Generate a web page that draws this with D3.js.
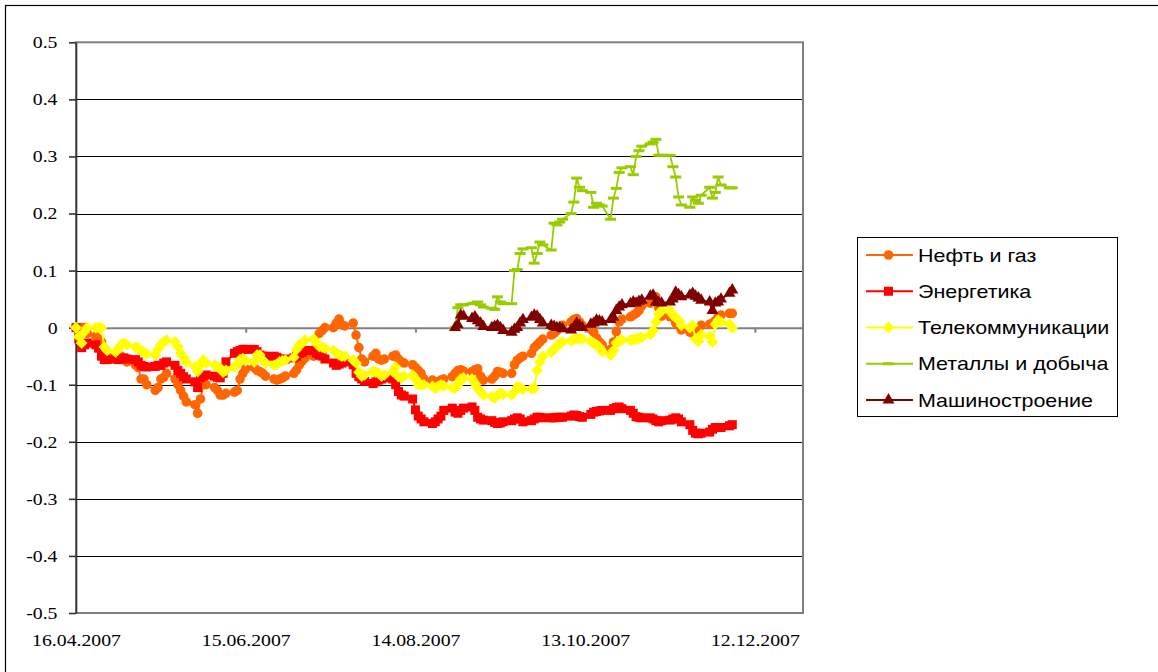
<!DOCTYPE html>
<html><head><meta charset="utf-8">
<script src="https://cdn.jsdelivr.net/npm/d3@7"></script>
<style>body{margin:0;background:#fff;overflow:hidden}</style>
</head><body>
<svg id="c" width="1158" height="672"></svg>
<script>
// ---------- data ----------
const startDate = "16.04.2007";          // first trading day (Monday)
const axisEndDate = "29.12.2007";
const xTickLabels = ["16.04.2007","15.06.2007","14.08.2007","13.10.2007","12.12.2007"];
const yTicks = [0.5,0.4,0.3,0.2,0.1,0,-0.1,-0.2,-0.3,-0.4,-0.5];
const yTickLabels = ["0.5","0.4","0.3","0.2","0.1","0","-0.1","-0.2","-0.3","-0.4","-0.5"];
const seriesNames = ["Нефть и газ","Энергетика","Телекоммуникации","Металлы и добыча","Машиностроение"];
const lateStartIndex = 96; // trading-day index where the last two series begin

const oilGas = [
 0,-0.01,0,0,-0.01,-0.015,-0.02,-0.025,-0.04,-0.05,
 -0.05,-0.055,-0.05,-0.055,-0.06,-0.065,-0.07,-0.09,-0.09,-0.1,
 -0.11,-0.105,-0.09,-0.087,-0.08,-0.09,-0.1,-0.11,-0.12,-0.13,
 -0.135,-0.15,-0.125,-0.1,-0.1,-0.105,-0.11,-0.118,-0.118,-0.115,
 -0.113,-0.11,-0.09,-0.08,-0.072,-0.07,-0.075,-0.077,-0.08,-0.085,
 -0.09,-0.092,-0.09,-0.088,-0.085,-0.08,-0.074,-0.065,-0.058,-0.053,
 -0.05,-0.03,-0.01,-0.005,0,0,0.008,0.015,0.005,0.003,
 0.008,-0.013,-0.035,-0.055,-0.06,-0.05,-0.045,-0.055,-0.057,-0.055,
 -0.05,-0.048,-0.055,-0.06,-0.062,-0.065,-0.07,-0.075,-0.08,-0.09,
 -0.092,-0.095,-0.095,-0.092,-0.09,-0.086,-0.08,-0.075,-0.074,-0.076,
 -0.077,-0.074,-0.072,-0.085,-0.092,-0.09,-0.085,-0.077,-0.078,-0.08,
 -0.08,-0.065,-0.057,-0.053,-0.05,-0.045,-0.035,-0.03,-0.025,-0.02,
 -0.013,-0.01,-0.005,0,0.004,0.01,0.014,0.016,0.01,0.004,
 -0.003,-0.008,-0.018,-0.025,-0.03,-0.038,-0.025,-0.007,0.01,0.015,
 0.019,0.022,0.025,0.03,0.038,0.043,0.05,0.054,0.035,0.02,
 0.019,0.019,0.008,0.004,-0.004,-0.008,-0.01,-0.008,-0.002,0.004,
 0.006,0.008,0.012,0.019,0.022,0.025,0.025
];
const energy = [
 0,-0.02,-0.035,-0.03,-0.027,-0.03,-0.036,-0.05,-0.056,-0.056,
 -0.055,-0.056,-0.054,-0.053,-0.055,-0.056,-0.06,-0.066,-0.068,-0.069,
 -0.068,-0.066,-0.066,-0.062,-0.06,-0.066,-0.075,-0.08,-0.086,-0.09,
 -0.095,-0.105,-0.088,-0.085,-0.083,-0.085,-0.087,-0.088,-0.08,-0.06,
 -0.045,-0.042,-0.04,-0.038,-0.038,-0.038,-0.042,-0.048,-0.05,-0.05,
 -0.05,-0.052,-0.055,-0.056,-0.055,-0.053,-0.05,-0.045,-0.043,-0.04,
 -0.04,-0.045,-0.048,-0.05,-0.055,-0.062,-0.066,-0.064,-0.062,-0.06,
 -0.065,-0.08,-0.086,-0.09,-0.094,-0.098,-0.095,-0.092,-0.09,-0.088,
 -0.09,-0.1,-0.112,-0.118,-0.12,-0.125,-0.144,-0.155,-0.16,-0.165,
 -0.168,-0.165,-0.16,-0.155,-0.145,-0.141,-0.148,-0.15,-0.145,-0.141,
 -0.139,-0.145,-0.157,-0.16,-0.162,-0.163,-0.166,-0.168,-0.167,-0.165,
 -0.163,-0.16,-0.158,-0.16,-0.165,-0.163,-0.16,-0.157,-0.157,-0.158,
 -0.158,-0.158,-0.157,-0.157,-0.157,-0.155,-0.153,-0.154,-0.156,-0.157,
 -0.152,-0.148,-0.147,-0.146,-0.145,-0.145,-0.142,-0.14,-0.139,-0.142,
 -0.145,-0.15,-0.156,-0.157,-0.158,-0.158,-0.16,-0.163,-0.165,-0.163,
 -0.162,-0.16,-0.158,-0.16,-0.165,-0.17,-0.18,-0.185,-0.186,-0.185,
 -0.183,-0.178,-0.175,-0.175,-0.175,-0.172,-0.17
];
const telecom = [
 0,-0.016,-0.027,-0.007,0,0,0,0,-0.034,-0.04,
 -0.043,-0.036,-0.03,-0.027,-0.03,-0.034,-0.036,-0.04,-0.043,-0.046,
 -0.048,-0.038,-0.03,-0.025,-0.022,-0.025,-0.033,-0.045,-0.052,-0.06,
 -0.068,-0.077,-0.065,-0.057,-0.062,-0.066,-0.068,-0.071,-0.078,-0.075,
 -0.069,-0.064,-0.056,-0.054,-0.058,-0.06,-0.048,-0.048,-0.057,-0.062,
 -0.066,-0.064,-0.06,-0.058,-0.057,-0.052,-0.038,-0.03,-0.027,-0.022,
 -0.02,-0.028,-0.033,-0.034,-0.036,-0.04,-0.044,-0.048,-0.05,-0.05,
 -0.057,-0.062,-0.078,-0.085,-0.083,-0.077,-0.078,-0.08,-0.085,-0.083,
 -0.077,-0.069,-0.086,-0.088,-0.085,-0.083,-0.09,-0.1,-0.1,-0.1,
 -0.103,-0.106,-0.103,-0.1,-0.102,-0.105,-0.106,-0.1,-0.09,-0.088,
 -0.09,-0.098,-0.106,-0.112,-0.118,-0.121,-0.123,-0.118,-0.115,-0.117,
 -0.118,-0.112,-0.104,-0.105,-0.108,-0.107,-0.106,-0.075,-0.06,-0.05,
 -0.043,-0.038,-0.032,-0.028,-0.025,-0.023,-0.021,-0.019,-0.019,-0.02,
 -0.024,-0.027,-0.03,-0.034,-0.042,-0.048,-0.04,-0.027,-0.024,-0.022,
 -0.022,-0.021,-0.02,-0.019,-0.017,-0.012,-0.005,0.01,0.024,0.03,
 0.03,0.022,0.018,0.013,0.004,0,0.004,-0.02,-0.024,-0.012,
 -0.015,-0.025,0.006,0.013,0.01,0.006,0
];
const metals = [
 0,0.035,0.04,0.04,0.042,0.043,0.045,0.04,0.036,0.034,
 0.032,0.054,0.045,0.042,0.042,0.1,0.102,0.13,0.138,0.14,
 0.113,0.13,0.15,0.145,0.136,0.183,0.18,0.185,0.19,0.2,
 0.22,0.262,0.246,0.24,0.237,0.211,0.218,0.215,0.213,0.19,
 0.227,0.244,0.272,0.28,0.282,0.268,0.3,0.31,0.318,0.322,
 0.325,0.33,0.302,0.302,0.302,0.282,0.264,0.229,0.215,0.211,
 0.229,0.223,0.218,0.232,0.246,0.227,0.237,0.264,0.25,0.245,
 0.245
];
const machinery = [
 0,0.005,0.022,0.02,0.016,0.019,0.012,0.008,0.002,0,
 0.002,0.004,0,-0.005,-0.008,-0.003,0,0.008,0.014,0.018,
 0.022,0.02,0.014,0.008,0.004,0.002,0,0,-0.002,-0.004,
 0,0.008,0.004,0,0.006,0.008,0.013,0.012,0.01,0.014,
 0.018,0.03,0.036,0.04,0.042,0.045,0.043,0.046,0.048,0.055,
 0.057,0.045,0.044,0.043,0.045,0.05,0.062,0.058,0.054,0.057,
 0.06,0.055,0.052,0.048,0.045,0.03,0.043,0.045,0.05,0.06,
 0.066
];

// ---------- setup ----------
const parse = d3.utcParse("%d.%m.%Y");
const t0 = parse(startDate);
function tradingDate(i){ // i-th weekday from the start Monday
  return d3.utcDay.offset(t0, 7*Math.floor(i/5) + i%5);
}
const svg = d3.select("#c");
const L = 76, R = 803, T = 42.3, B = 613;
const x = d3.scaleUtc().domain([t0, parse(axisEndDate)]).range([L, R]);
const y = d3.scaleLinear().domain([-0.5, 0.5]).range([B, T]);
const SX = 1.235; // horizontal stretch of the original text
const SERIF = "'Liberation Serif','Times New Roman',serif";
const SANS = "'Liberation Sans',Arial,sans-serif";

svg.append("rect").attr("width",1158).attr("height",672).attr("fill","#fff");
// outer chart border (only top/left visible)
svg.append("rect").attr("x",5.5).attr("y",5.5).attr("width",1400).attr("height",900)
  .attr("fill","none").attr("stroke","#000").attr("stroke-width",1.2);

// gridlines
const grid = svg.append("g").attr("transform",`translate(${L},0)`)
  .call(d3.axisLeft(y).tickValues(yTicks.filter(v => v !== 0 && Math.abs(v) !== 0.5))
        .tickSize(-(R-L)).tickFormat(""));
grid.select(".domain").remove();
grid.selectAll("line").attr("stroke","#000").attr("stroke-width",1).attr("shape-rendering","crispEdges");

// plot area border
svg.append("rect").attr("x",L).attr("y",T).attr("width",R-L).attr("height",B-T)
  .attr("fill","none").attr("stroke","#808080").attr("stroke-width",2);

// x axis line at zero with ticks
const tickDates = xTickLabels.map(parse);
const xz = svg.append("g").attr("transform",`translate(0,${y(0)})`)
  .call(d3.axisBottom(x).tickValues(tickDates).tickSize(5).tickSizeOuter(0).tickFormat(""));
xz.selectAll("path,line").attr("stroke","#808080").attr("stroke-width",2);

// x labels at bottom
const xl = svg.append("g").attr("transform",`translate(0,${B})`)
  .call(d3.axisBottom(x).tickValues(tickDates).tickSize(0).tickFormat((d,i)=>xTickLabels[i]));
xl.select(".domain").remove();
xl.attr("font-family", null);
xl.selectAll("text").attr("y",33).attr("dy",0)
  .style("font-family",SERIF).style("font-size","16px")
  .attr("fill","#000").attr("transform",`scale(${SX},1)`);

// y axis
const ya = svg.append("g").attr("transform",`translate(${L},0)`)
  .call(d3.axisLeft(y).tickValues(yTicks).tickSize(7).tickSizeOuter(0)
        .tickFormat((d,i)=>yTickLabels[i]));
ya.attr("font-family", null);
ya.selectAll("path,line").attr("stroke","#333").attr("stroke-width",1.6);
ya.selectAll("text").attr("x",-18.5/SX).attr("dy","0.34em")
  .style("font-family",SERIF).style("font-size","16px")
  .attr("fill","#000").attr("transform",`scale(${SX},1)`);

// ---------- series ----------
const series = [
  {name:seriesNames[0], values:oilGas,   start:0, color:"#FF6600", marker:"circle",   lw:2},
  {name:seriesNames[1], values:energy,   start:0, color:"#FF0000", marker:"square",   lw:2},
  {name:seriesNames[2], values:telecom,  start:0, color:"#FFFF00", marker:"diamond",  lw:2},
  {name:seriesNames[3], values:metals,   start:lateStartIndex, color:"#99CC00", marker:"dash", lw:1.8},
  {name:seriesNames[4], values:machinery,start:lateStartIndex, color:"#800000", marker:"triangle", lw:2}
];

function drawMarker(sel, type, color){
  if(type === "circle") sel.append("path").attr("d", d3.symbol(d3.symbolCircle, 72)()).attr("fill",color);
  else if(type === "square") sel.append("path").attr("d", d3.symbol(d3.symbolSquare, 81)()).attr("fill",color);
  else if(type === "diamond") sel.append("path").attr("d", d3.symbol(d3.symbolSquare, 68)())
       .attr("transform","rotate(45)").attr("fill",color);
  else if(type === "triangle") sel.append("path").attr("d", d3.symbol(d3.symbolTriangle, 62)()).attr("fill",color);
  else if(type === "dash") sel.append("rect").attr("x",-5.5).attr("y",-1.5).attr("width",11).attr("height",3).attr("fill",color);
}

const line = d3.line().x(d => x(d.date)).y(d => y(d.v));
series.forEach(s => {
  const pts = s.values.map((v,k) => ({date: tradingDate(s.start + k), v}));
  const g = svg.append("g");
  g.append("path").datum(pts).attr("d", line).attr("fill","none")
    .attr("stroke", s.color).attr("stroke-width", s.lw).attr("stroke-linejoin","round");
  g.selectAll("g.m").data(pts).join("g").attr("class","m")
    .attr("transform", d => `translate(${x(d.date)},${y(d.v)})`)
    .each(function(){ drawMarker(d3.select(this), s.marker, s.color); });
});

// ---------- legend ----------
const lg = svg.append("g");
lg.append("rect").attr("x",857.5).attr("y",237.5).attr("width",260).attr("height",179)
  .attr("fill","#fff").attr("stroke","#000").attr("stroke-width",1);
series.forEach((s,i) => {
  const cy = 255 + i*36.25;
  const it = lg.append("g").attr("transform",`translate(0,${cy})`);
  it.append("line").attr("x1",866).attr("x2",913).attr("y1",0).attr("y2",0)
    .attr("stroke",s.color).attr("stroke-width",s.lw);
  drawMarker(it.append("g").attr("transform","translate(888.5,0)"), s.marker, s.color);
  it.append("text").attr("transform",`translate(918,0) scale(1.16,1)`).attr("dy","0.36em")
    .style("font-family",SANS).style("font-size","18.5px")
    .attr("fill","#000").text(s.name);
});
</script>
</body></html>
